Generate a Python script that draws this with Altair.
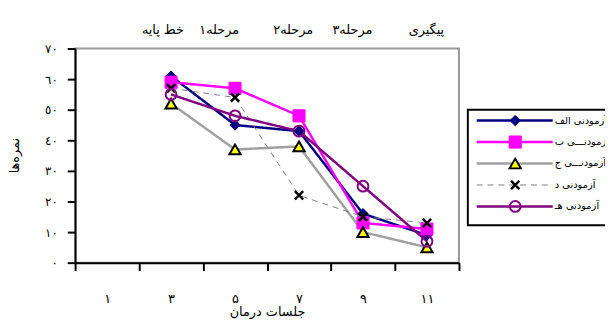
import altair as alt
import pandas as pd

# ---- data ----
sessions = [3, 5, 7, 9, 11]
series_names = ["آزمودنی الف", "آزمودنـــی ب", "آزمودنـــی ج", "آزمودنی د", "آزمودنی هـ"]
vals_a = [61, 45, 43, 16, 9]
vals_b = [59, 57, 48, 13, 11]
vals_c = [52, 37, 38, 10, 5]
vals_d = [57, 54, 22, 15, 13]
vals_e = [55, 48, 43, 25, 7]
series_values = [vals_a, vals_b, vals_c, vals_d, vals_e]

x_tick_values = list(range(0, 13))
x_label_values = [1, 3, 5, 7, 9, 11]
x_labels = ["۱", "۳", "۵", "۷", "۹", "۱۱"]
y_values = [0, 10, 20, 30, 40, 50, 60, 70]
y_labels = ["٠", "١٠", "٢٠", "٣٠", "٤٠", "٥٠", "٦٠", "٧٠"]
phase_labels = ["خط پایه", "مرحله۱", "مرحله۲", "مرحله۳", "پیگیری"]

FONT = "DejaVu Sans"
X_SHAPE = "M-1,-1L1,1M-1,1L1,-1"

styles = [
    dict(color="#000080", width=2.5, dash=[1, 0], shape="diamond", size=110, fill="#000080", stroke="#000080", sw=1),
    dict(color="#FF00FF", width=2.5, dash=[1, 0], shape="square", size=150, fill="#FF00FF", stroke="#FF00FF", sw=1),
    dict(color="#A0A0A0", width=2.5, dash=[1, 0], shape="triangle-up", size=130, fill="#FFFF00", stroke="#000000", sw=2),
    dict(color="#808080", width=1, dash=[6, 5], shape=X_SHAPE, size=70, fill="transparent", stroke="#000000", sw=2.5),
    dict(color="#800080", width=2.5, dash=[1, 0], shape="circle", size=120, fill="transparent", stroke="#800080", sw=2),
]

rows = []
for name, vals in zip(series_names, series_values):
    for s, v in zip(sessions, vals):
        rows.append({"series": name, "session": s, "value": v})
df = pd.DataFrame(rows)


def ternary(values, labels):
    expr = "''"
    for v, l in reversed(list(zip(values, labels))):
        expr = f"datum.value == {v} ? '{l}' : ({expr})"
    return expr


x_enc = alt.X(
    "session:Q",
    scale=alt.Scale(domain=[0, 12], nice=False, zero=False),
    axis=alt.Axis(
        values=x_tick_values,
        labelExpr=ternary(x_label_values, x_labels),
        tickOpacity={"condition": {"test": "datum.value % 2 == 1", "value": 0}, "value": 1},
        labelPadding=22,
        labelFontSize=13,
        labelFont=FONT,
        labelColor="black",
        title="جلسات درمان",
        titleY=50,
        titleBaseline="middle",
        titleFont=FONT,
        titleFontSize=13,
        titleFontWeight="normal",
        titleColor="black",
    ),
)
y_enc = alt.Y(
    "value:Q",
    scale=alt.Scale(domain=[0, 70], nice=False),
    axis=alt.Axis(
        values=y_values,
        labelExpr=ternary(y_values, y_labels),
        labelPadding=10,
        labelFontSize=12,
        labelFont=FONT,
        labelColor="black",
        title="نمره‌ها",
        titleX=-61,
        titleY=108,
        titleAlign="center",
        titleBaseline="middle",
        titleFont=FONT,
        titleFontSize=13,
        titleFontWeight="normal",
        titleColor="black",
    ),
)

line_layers = []
point_layers = []
for name, st in zip(series_names, styles):
    base = alt.Chart(df).transform_filter(alt.datum.series == name)
    line_layers.append(
        base.mark_line(color=st["color"], strokeWidth=st["width"], strokeDash=st["dash"]).encode(x=x_enc, y=y_enc)
    )
    point_layers.append(
        base.mark_point(
            shape=st["shape"], size=st["size"], fill=st["fill"], stroke=st["stroke"],
            strokeWidth=st["sw"], opacity=1, fillOpacity=1,
        ).encode(x=x_enc, y=y_enc)
    )

# ---- phase labels above the plot ----
phase_x = [89, 146, 221, 281, 356]
phase_layers = []
for lab, px in zip(phase_labels, phase_x):
    phase_layers.append(
        alt.Chart(pd.DataFrame({"t": [lab]})).mark_text(
            font=FONT, fontSize=13, color="black", align="center", baseline="middle"
        ).encode(text="t:N", x=alt.value(px), y=alt.value(-19))
    )

# ---- legend drawn at right ----
one = pd.DataFrame({"a": [0]})
legend_layers = [
    alt.Chart(one).mark_rect(fill="white", stroke="black", strokeWidth=2).encode(
        x=alt.value(398), x2=alt.value(590), y=alt.value(62), y2=alt.value(179)
    )
]
for i, (name, st) in enumerate(zip(series_names, styles)):
    yy = 73 + i * 21.75
    d = pd.DataFrame({"name": [name]})
    legend_layers.append(
        alt.Chart(d).mark_rule(color=st["color"], strokeWidth=st["width"], strokeDash=st["dash"]).encode(
            x=alt.value(407), x2=alt.value(484), y=alt.value(yy)
        )
    )
    legend_layers.append(
        alt.Chart(d).mark_point(
            shape=st["shape"], size=st["size"], fill=st["fill"], stroke=st["stroke"],
            strokeWidth=st["sw"], opacity=1, fillOpacity=1,
        ).encode(x=alt.value(446), y=alt.value(yy))
    )
    legend_layers.append(
        alt.Chart(d).mark_text(font=FONT, fontSize=10, color="black", align="left", baseline="middle").encode(
            text="name:N", x=alt.value(486), y=alt.value(yy)
        )
    )

chart = (
    alt.layer(*line_layers, *point_layers, *phase_layers, *legend_layers)
    .properties(
        width=389,
        height=217,
        autosize=alt.AutoSizeParams(type="none"),
        padding={"left": 68, "top": 39, "right": 148, "bottom": 55},
        background="white",
    )
    .configure_view(stroke="#999999", strokeWidth=2)
    .configure_axis(
        domainColor="black", domainWidth=2, tickColor="black", tickWidth=2, tickSize=8, grid=False
    )
)

chart.save("out.html", embed_options={"renderer": "svg", "actions": False})
